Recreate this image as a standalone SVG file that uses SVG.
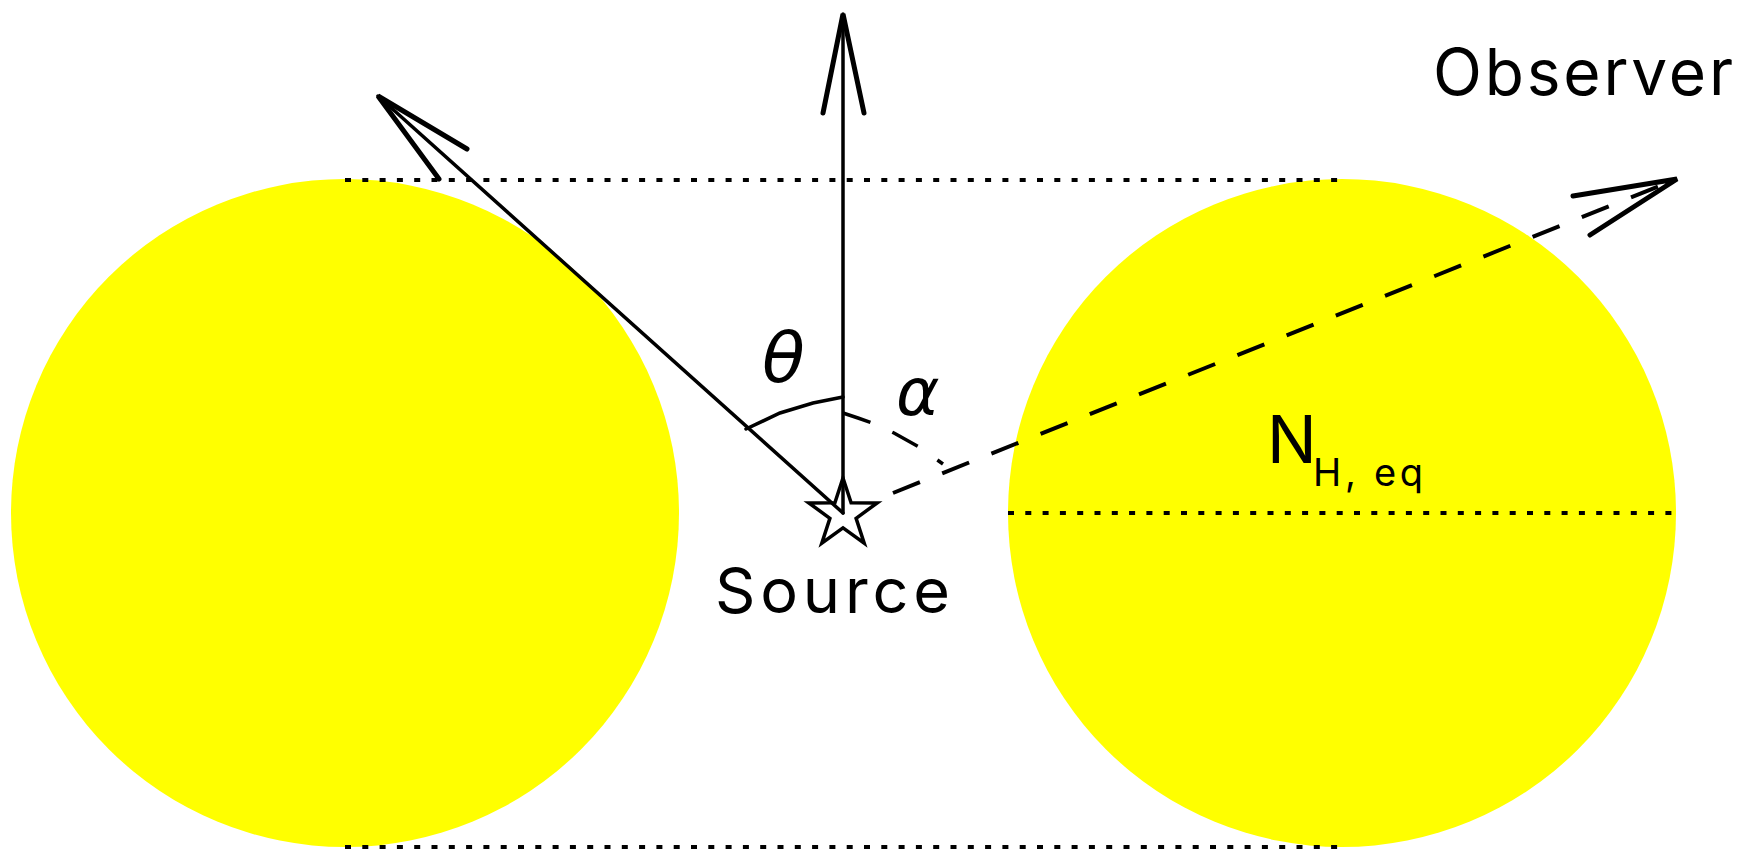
<svg xmlns="http://www.w3.org/2000/svg" width="1744" height="849" viewBox="0 0 1744 849">
<style>
.blob{fill:#ffff00;stroke:none}
.dot{fill:none;stroke:#000;stroke-width:4;stroke-dasharray:6 11.3}
.shaft{fill:none;stroke:#000;stroke-width:3.5;stroke-linecap:round}
.barb{fill:none;stroke:#000;stroke-width:5;stroke-linecap:round}
.dash{fill:none;stroke:#000;stroke-width:4;stroke-dasharray:29 24}
.lbl{font-family:Inter,"DejaVu Sans","Liberation Sans",sans-serif;font-weight:400;fill:#000}
.greek{font-family:"DejaVu Sans","Liberation Sans",sans-serif;font-style:italic;font-weight:300;fill:#000}
</style>
<rect width="1744" height="849" fill="#fff"/>
<g id="cloud-left"><circle class="blob" cx="345" cy="513" r="334"/></g>
<g id="cloud-right"><circle class="blob" cx="1342" cy="513" r="334"/></g>
<g id="guides">
<line class="dot" x1="345" y1="180" x2="1346" y2="180"/>
<line class="dot" x1="1008" y1="513" x2="1676" y2="513"/>
<line class="dot" x1="345" y1="847" x2="1342" y2="847"/>
</g>
<g id="connectors">
<line class="shaft" x1="843" y1="513" x2="843" y2="14"/>
<polyline class="barb" points="823,113 843,14 864,113"/>
<line class="shaft" x1="843" y1="513" x2="378" y2="96"/>
<polyline class="barb" points="467,149 378,96 439,179"/>
<line class="dash" x1="893" y1="493" x2="1677" y2="179"/>
<polyline class="barb" points="1573,196 1677,179 1590,235"/>
<polyline class="shaft" points="843,397 813,403 780,413 746,429"/>
<polyline class="dash" style="stroke-width:3.5" points="843,413 858,418 872,423 894,433 919,447 943,464"/>
</g>
<g id="source">
<polygon fill="none" stroke="#000" stroke-width="3.5" stroke-linejoin="miter" points="843,478 851.1,502.8 877.2,502.9 856.1,518.3 864.2,543.1 843,527.8 821.8,543.1 829.9,518.3 808.8,502.9 834.9,502.8"/>
<text class="lbl" x="715" y="613" font-size="63" textLength="235" lengthAdjust="spacing">Source</text>
</g>
<g id="observer"><text class="lbl" x="1433" y="95" font-size="64" textLength="300" lengthAdjust="spacing">Observer</text></g>
<g id="column"><text class="lbl" x="1267" y="463" font-size="66">N</text><text class="lbl" x="1313" y="486" font-size="38" textLength="110" lengthAdjust="spacing">H, eq</text></g>
<g id="angles">
<text class="greek" x="762" y="382" font-size="70">θ</text>
<text class="greek" x="896" y="415" font-size="66">α</text>
</g>
</svg>
